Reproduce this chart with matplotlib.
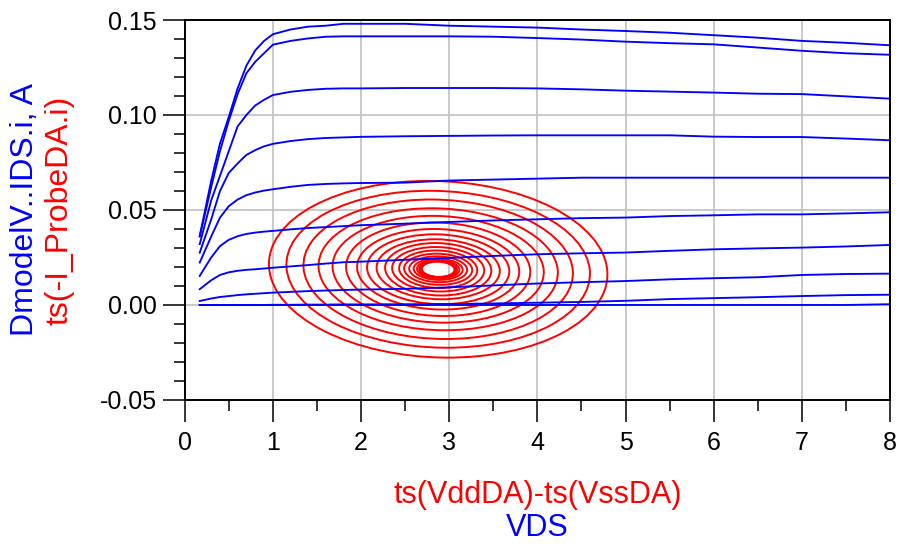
import numpy as np
import matplotlib
matplotlib.use("Agg")
import matplotlib.pyplot as plt
from matplotlib.patches import Ellipse
from matplotlib.transforms import Affine2D

plt.rcParams['font.family'] = ['Liberation Sans', 'DejaVu Sans']

# ---------------- data ----------------
vds = [0.17, 0.3, 0.4, 0.5, 0.6, 0.7, 0.8, 0.9, 1.0, 1.2, 1.4, 1.6, 1.8, 2.0,
       2.5, 3.0, 3.5, 4.0, 4.5, 5.0, 5.5, 6.0, 6.5, 7.0, 7.5, 8.0]

ids_1 = [0.0363, 0.0653, 0.085, 0.099, 0.114, 0.126, 0.134, 0.139, 0.1425, 0.145,
         0.1465, 0.147, 0.148, 0.148, 0.148, 0.147, 0.1465, 0.146, 0.145, 0.1442,
         0.1433, 0.142, 0.1407, 0.139, 0.138, 0.1367]
ids_2 = [0.036, 0.062, 0.081, 0.097, 0.111, 0.122, 0.128, 0.1325, 0.137, 0.139,
         0.1403, 0.1412, 0.1414, 0.1414, 0.1414, 0.1414, 0.1412, 0.1405, 0.1397, 0.1386,
         0.1378, 0.1372, 0.1355, 0.1338, 0.1325, 0.1317]
ids_3 = [0.032, 0.055, 0.068, 0.081, 0.094, 0.1, 0.105, 0.108, 0.1105, 0.1122,
         0.1132, 0.1138, 0.114, 0.114, 0.1142, 0.1142, 0.1142, 0.114, 0.1135, 0.1128,
         0.1123, 0.1118, 0.1112, 0.111, 0.1098, 0.1086]
ids_4 = [0.0275, 0.045, 0.06, 0.0695, 0.0745, 0.079, 0.0815, 0.0835, 0.0848, 0.0863,
         0.0873, 0.0879, 0.0882, 0.0885, 0.0888, 0.089, 0.0892, 0.0893, 0.0893, 0.0893,
         0.0893, 0.0886, 0.0884, 0.0884, 0.0876, 0.0867]
ids_5 = [0.0223, 0.036, 0.046, 0.052, 0.0555, 0.0578, 0.0592, 0.0602, 0.0609, 0.0622,
         0.0632, 0.0637, 0.064, 0.0642, 0.0644, 0.0655, 0.066, 0.0665, 0.067, 0.067,
         0.067, 0.067, 0.067, 0.067, 0.067, 0.067]
ids_6 = [0.0153, 0.025, 0.031, 0.0343, 0.0362, 0.0374, 0.0381, 0.0386, 0.039, 0.0398,
         0.0405, 0.041, 0.0415, 0.042, 0.0428, 0.0437, 0.0445, 0.0451, 0.0457, 0.046,
         0.0468, 0.0472, 0.0477, 0.0477, 0.0482, 0.0488]
ids_7 = [0.0083, 0.013, 0.0158, 0.0172, 0.018, 0.0185, 0.0188, 0.0192, 0.0196, 0.0203,
         0.021, 0.0218, 0.0225, 0.0228, 0.0238, 0.0248, 0.0258, 0.0267, 0.0272, 0.0276,
         0.0285, 0.0293, 0.0298, 0.0302, 0.0308, 0.0316]
ids_8 = [0.0021, 0.0034, 0.0042, 0.0047, 0.0052, 0.0056, 0.0059, 0.0062, 0.0065, 0.0069,
         0.0073, 0.0076, 0.0079, 0.0081, 0.0085, 0.0093, 0.0103, 0.0113, 0.012, 0.0126,
         0.0135, 0.0141, 0.0146, 0.0158, 0.0163, 0.0165]
ids_9 = [0.0, 0.0, 0.0, 0.0, 0.0, 0.0, 0.0, 0.0, 0.0001, 0.0001,
         0.0002, 0.0002, 0.0003, 0.0003, 0.0004, 0.0005, 0.0008, 0.0012, 0.0016, 0.0022,
         0.0031, 0.0036, 0.0041, 0.0047, 0.0052, 0.0054]
ids_10 = [0.0, 0.0, 0.0, 0.0, 0.0, 0.0, 0.0, 0.0, 0.0, 0.0,
          0.0, 0.0, 0.0, 0.0, 0.0, 0.0, 0.0, 0.0, 0.0, 0.0,
          0.0, 0.0, 0.0, 0.0, 0.0, 0.0004]
iv_curves = [ids_1, ids_2, ids_3, ids_4, ids_5, ids_6, ids_7, ids_8, ids_9, ids_10]

# load-line spiral: turn centre and per-turn semi-axes
loop_center_v = 2.875
loop_center_i = 0.0188
loop_half_v = [1.918, 1.72, 1.527, 1.356, 1.197, 1.044, 0.919, 0.806, 0.698, 0.602,
               0.522, 0.443, 0.386, 0.329, 0.278, 0.240, 0.215, 0.198, 0.185]
loop_half_i = [0.0465, 0.0413, 0.0367, 0.0321, 0.0281, 0.0246, 0.0212, 0.0184, 0.0158, 0.0138,
               0.0117, 0.0099, 0.0082, 0.0068, 0.0056, 0.0049, 0.0045, 0.0042, 0.0040]

xticks = [0, 1, 2, 3, 4, 5, 6, 7, 8]
xtick_labels = ["0", "1", "2", "3", "4", "5", "6", "7", "8"]
yticks = [-0.05, 0.0, 0.05, 0.10, 0.15]
ytick_labels = ["-0.05", "0.00", "0.05", "0.10", "0.15"]

# ---------------- figure ----------------
fig = plt.figure(figsize=(8.98, 5.45), dpi=100)
ax = fig.add_axes([0.2057, 0.2661, 0.7854, 0.6972])

ax.set_xlim(0, 8)
ax.set_ylim(-0.05, 0.15)

# red spiral rings
shear = Affine2D().skew(np.arctan(-1.7), np.arctan(-0.0004))
for hv, hi in zip(loop_half_v, loop_half_i):
    e = Ellipse((0, 0), 2 * hv, 2 * hi, fill=False, edgecolor='#ff0000', lw=1.4)
    e.set_transform(shear + Affine2D().translate(loop_center_v, loop_center_i) + ax.transData)
    ax.add_patch(e)

for ids in iv_curves:
    ax.plot(vds, ids, color='#0000ff', lw=1.35, zorder=3)

ax.set_xticks(xticks)
ax.set_xticklabels(xtick_labels)
ax.set_yticks(yticks)
ax.set_yticklabels(ytick_labels)
ax.set_xticks(np.arange(0, 8.01, 0.5), minor=True)
ax.set_yticks(np.arange(-0.05, 0.1501, 0.01), minor=True)

ax.grid(True, which='major', color='#c0c0c0', lw=1.2, zorder=0)
ax.set_axisbelow(True)

ax.tick_params(which='major', direction='out', length=16, width=1.1, color='black',
               labelsize=18, pad=4)
ax.tick_params(axis='x', which='major', pad=6)
ax.tick_params(which='minor', direction='out', length=8, width=1.1, color='black')

for s in ax.spines.values():
    s.set_color('black')
    s.set_linewidth(1.4)

# y label (two lines, two colours)
ax.text(-0.226, 0.5, "DmodelV..IDS.i, A", color='#0000ff', fontsize=23,
        rotation=90, ha='center', va='center', transform=ax.transAxes)
ax.text(-0.177, 0.5, "ts(-I_ProbeDA.i)", color='#ff0000', fontsize=23,
        rotation=90, ha='center', va='center', transform=ax.transAxes)

# x label (two lines, two colours)
ax.text(0.5, -0.250, "ts(VddDA)-ts(VssDA)", color='#ff0000', fontsize=22,
        ha='center', va='center', transform=ax.transAxes)
ax.text(0.5, -0.336, "VDS", color='#0000ff', fontsize=22,
        ha='center', va='center', transform=ax.transAxes)

fig.savefig("out.png", dpi=100)
